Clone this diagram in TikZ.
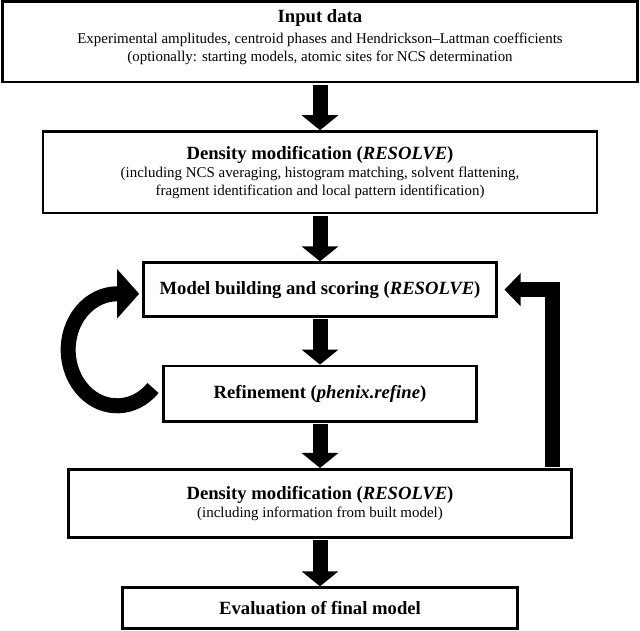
\documentclass[tikz,border=0pt]{standalone}
\usepackage{fontspec}
\setmainfont{Liberation Serif}
\usetikzlibrary{arrows.meta}
\newcommand{\titlefont}{\fontsize{14}{16}\selectfont\bfseries}
\newcommand{\bodyfont}{\fontsize{11.2}{13.5}\selectfont}
\tikzset{
    stepbox/.style={draw, line width=2pt, align=center, inner sep=0pt, font=\bodyfont},
    fat arrow/.style={line width=11.25pt, -{Triangle[length=11.25pt,width=27pt]}, shorten <=1pt},
}
\begin{document}
\begin{tikzpicture}[x=.75pt,y=.75pt]
\useasboundingbox (0,0) rectangle (640,-631);
\node[stepbox, minimum width=475.8pt, minimum height=60.5pt] (input) at (320,-41.7)
    {{\titlefont Input data}\\[2.3pt]
     Experimental amplitudes, centroid phases and Hendrickson--Lattman coefficients\\
     (optionally: starting models, atomic sites for NCS determination\rule[-9pt]{0pt}{9pt}};
\node[stepbox, minimum width=415.5pt, minimum height=61.1pt] (dens1) at (320,-172.3)
    {{\titlefont Density modification (\textit{RESOLVE})}\\
     (including NCS averaging, histogram matching, solvent flattening,\\
     fragment identification and local pattern identification)};
\node[stepbox, font=\titlefont, minimum width=264.75pt, minimum height=40.5pt] (build) at (320,-289.7)
    {Model building and scoring (\textit{RESOLVE})};
\node[stepbox, font=\titlefont, minimum width=234.3pt, minimum height=41.8pt] (refine) at (320,-393.8)
    {Refinement (\textit{phenix.refine})};
\node[stepbox, minimum width=377.6pt, minimum height=51pt] (dens2) at (320,-503.3)
    {{\titlefont Density modification (\textit{RESOLVE})}\\
     (including information from built model)};
\node[stepbox, font=\titlefont, minimum width=296pt, minimum height=30.5pt] (final) at (320,-608)
    {Evaluation of final model};
\foreach \a/\b in {input/dens1,dens1/build,build/refine,refine/dens2,dens2/final}{
    \draw[fat arrow] (\a.south) -- (\b.north);
}
\coordinate (loop) at (153,-388);
\draw[line width=11.25pt, -{Triangle[length=16.5pt,width=36pt]}]
    (loop) arc[start angle=-43, end angle=-270, x radius=49, y radius=56] -- ++(22,0);
\coordinate (back) at (552,-467);
\draw[line width=11.25pt, -{Triangle[length=12pt,width=24pt]}]
    (back) |- ([xshift=5pt]build.east);
\end{tikzpicture}
\end{document}
